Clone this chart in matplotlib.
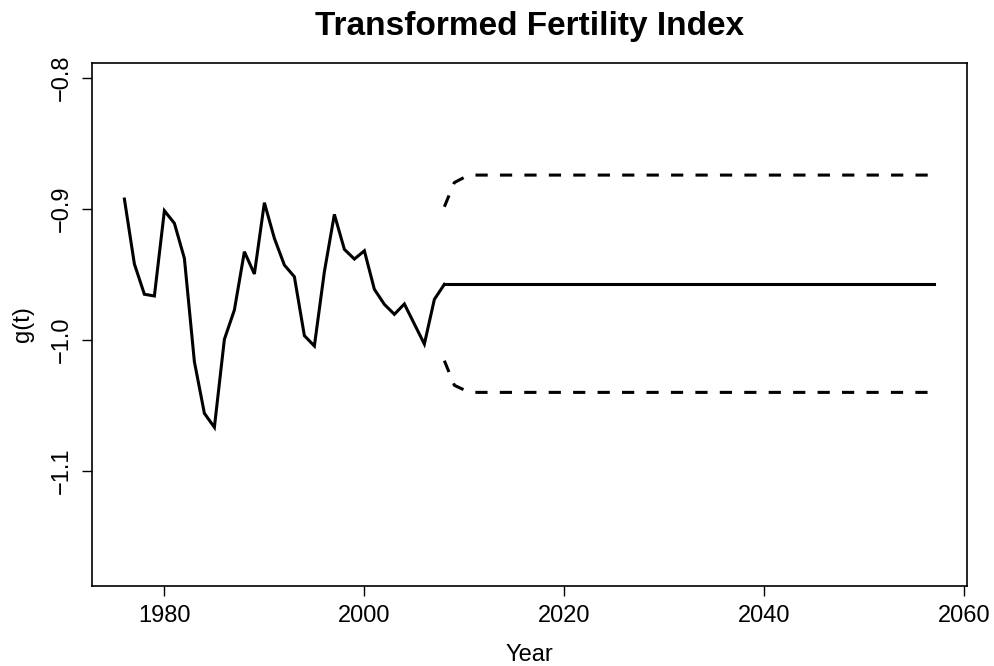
import matplotlib; matplotlib.use('Agg')
import matplotlib.pyplot as plt

# observed transformed fertility index
obs_years = list(range(1976, 2009))
obs_vals = [-0.8926, -0.9422, -0.9653, -0.9666, -0.9015, -0.9111, -0.9379, -1.0168,
            -1.0562, -1.0669, -0.9997, -0.9773, -0.9328, -0.9498, -0.8954, -0.9226,
            -0.9430, -0.9519, -0.9969, -1.0048, -0.9481, -0.9043, -0.9310, -0.9384,
            -0.9321, -0.9615, -0.9730, -0.9806, -0.9727, -0.9880, -1.0033, -0.9692,
            -0.9577]

# forecast (flat) and bands
fc_years = list(range(2008, 2058))
fc_vals = [-0.9577] * 50
upper = [-0.8985, -0.8800, -0.8760] + [-0.8743] * 47
lower = [-1.0160, -1.0348, -1.0384] + [-1.0402] * 47

plt.rcParams['font.family'] = ['Liberation Sans', 'DejaVu Sans']

fig = plt.figure(figsize=(9.95, 6.66), dpi=100)
ax = fig.add_axes([92 / 995, 1 - 585.7 / 666, (966.7 - 92) / 995, (585.7 - 62.7) / 666])

ax.plot(obs_years, obs_vals, color='black', lw=2.2, solid_joinstyle='miter')
ax.plot(fc_years, fc_vals, color='black', lw=2.2)
ax.plot(fc_years, upper, color='black', lw=2.2, dashes=(4, 4))
ax.plot(fc_years, lower, color='black', lw=2.2, dashes=(4, 4))

ax.set_xlim(1972.76, 2060.24)
ax.set_ylim(-1.1878, -0.7885)
ax.set_xticks([1980, 2000, 2020, 2040, 2060])
ax.set_yticks([-0.8, -0.9, -1.0, -1.1])
ax.set_yticklabels(['\u22120.8', '\u22120.9', '\u22121.0', '\u22121.1'], rotation=90, va='center')
ax.tick_params(direction='out', length=7, width=1, labelsize=17, pad=7, color='black')

for s in ax.spines.values():
    s.set_linewidth(1.2)

ax.set_title('Transformed Fertility Index', fontsize=24, fontweight='bold', pad=20)
ax.set_xlabel('Year', fontsize=17, labelpad=12)
ax.set_ylabel('g(t)', fontsize=17, labelpad=12)

plt.savefig('out.png', dpi=100)
plt.close()
